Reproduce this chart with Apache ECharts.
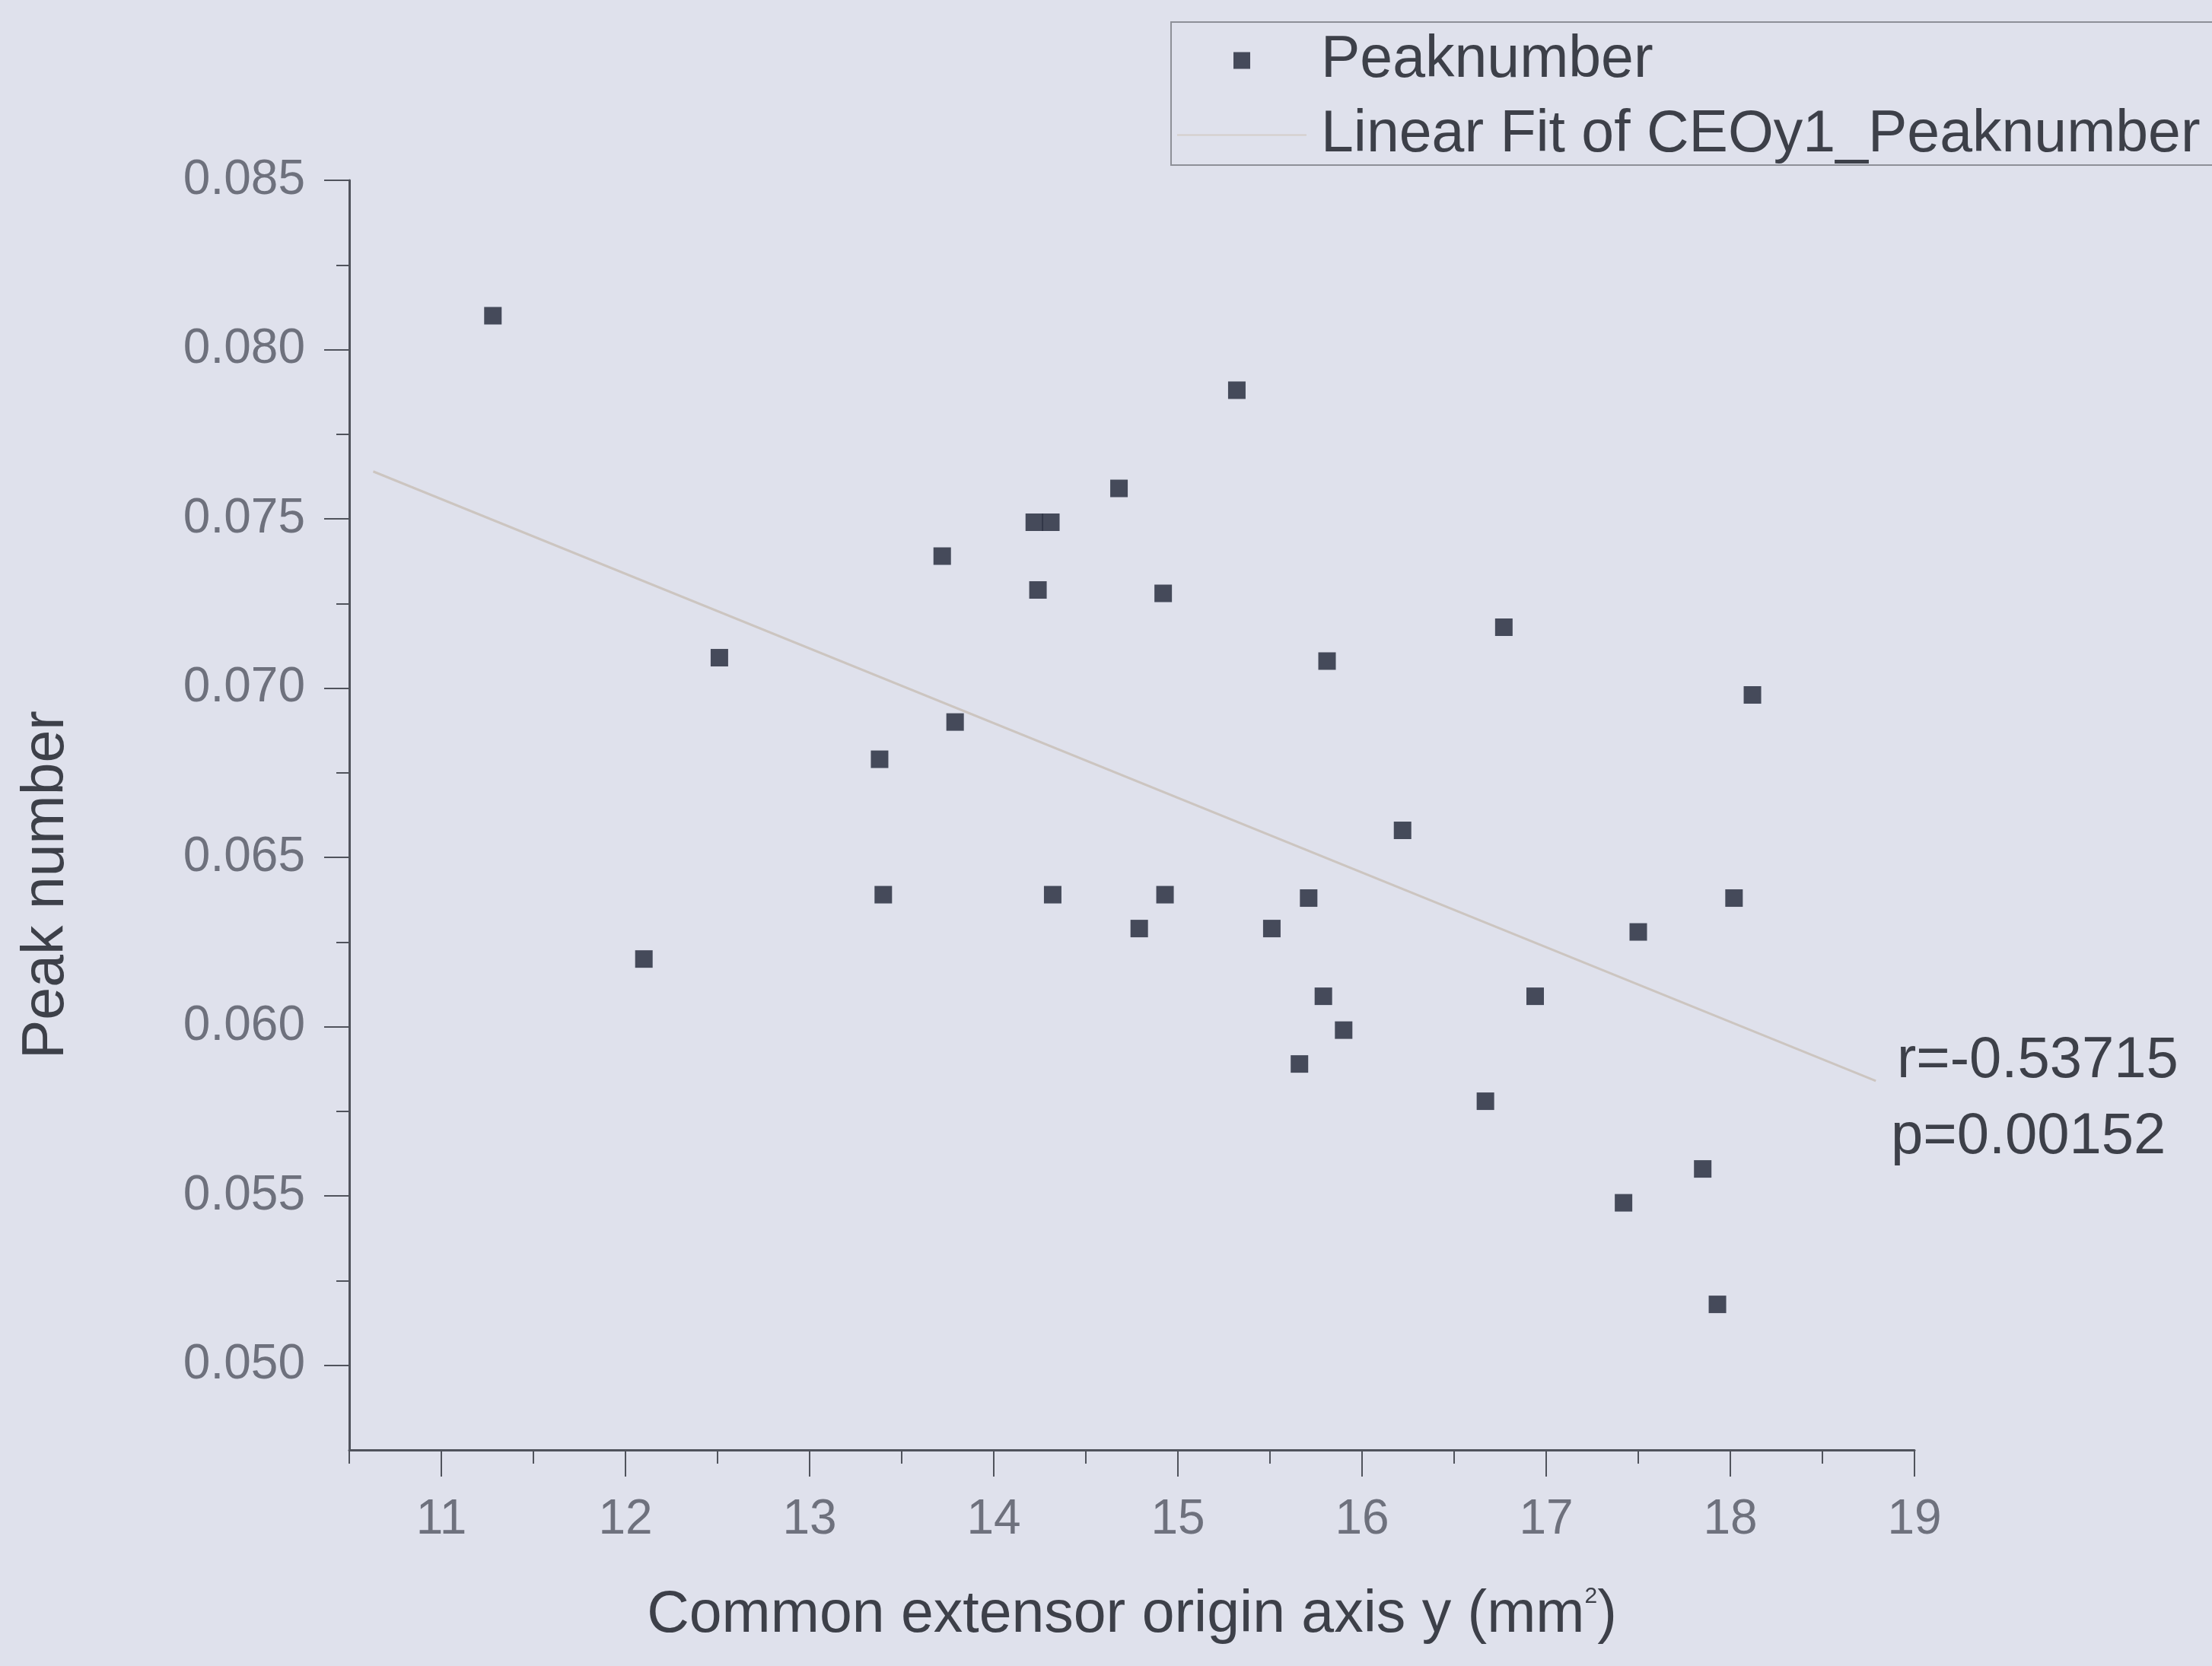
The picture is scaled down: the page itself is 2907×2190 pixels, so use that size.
<!DOCTYPE html>
<html>
<head>
<meta charset="utf-8">
<script src="https://cdn.jsdelivr.net/npm/echarts@6/dist/echarts.min.js"></script>
<style>
html,body{margin:0;padding:0;background:#dfe1ec;}
#chart{width:2907px;height:2190px;}
</style>
</head>
<body>
<div id="chart"></div>
<script>
// Scatter data: Common extensor origin axis y (mm^2) vs Peak number
const xValues = [11.28, 12.10, 12.51, 13.38, 13.40, 13.72, 13.79, 14.22, 14.31, 14.24, 14.32,
  14.68, 14.79, 14.92, 14.93, 15.32, 15.51, 15.71, 15.66, 15.81, 15.79, 15.90, 16.22,
  16.67, 16.77, 16.94, 17.42, 17.50, 17.85, 17.93, 18.02, 18.12];
const yValues = [0.0810, 0.0620, 0.0709, 0.0679, 0.0639, 0.0739, 0.0690, 0.0749, 0.0749, 0.0729, 0.0639,
  0.0759, 0.0629, 0.0728, 0.0639, 0.0788, 0.0629, 0.0638, 0.0589, 0.0708, 0.0609, 0.0599, 0.0658,
  0.0578, 0.0718, 0.0609, 0.0548, 0.0628, 0.0558, 0.0518, 0.0638, 0.0698];
// Linear fit endpoints
const fitX = [10.63, 18.79];
const fitY = [0.0764, 0.0584];
// Tick values
const xMajorTicks = [11, 12, 13, 14, 15, 16, 17, 18, 19];
const xMinorTicks = [10.5, 11.5, 12.5, 13.5, 14.5, 15.5, 16.5, 17.5, 18.5];
const yMajorTicks = [0.050, 0.055, 0.060, 0.065, 0.070, 0.075, 0.080, 0.085];
const yMinorTicks = [0.0525, 0.0575, 0.0625, 0.0675, 0.0725, 0.0775, 0.0825];
const seriesNames = ['Peaknumber', 'Linear Fit of CEOy1_Peaknumber'];
const xTitle = 'Common extensor origin axis y (mm';
const yTitle = 'Peak number';
const statText = ['r=-0.53715', 'p=0.00152'];

const FONT = "'Liberation Sans', Arial, sans-serif";
const axisColor = '#50535c';
const textDark = '#3d4049';
const tickText = '#6e717d';
const fitColor = '#ccc5c0';

const chart = echarts.init(document.getElementById('chart'));
const scatterData = xValues.map((x, i) => [x, yValues[i]]);
const fitData = fitX.map((x, i) => [x, fitY[i]]);

const option = {
  backgroundColor: '#dfe1ec',
  animation: false,
  grid: {left: 459, right: 391, top: 237, bottom: 284},
  legend: {
    orient: 'vertical', left: 1539, top: 29,
    padding: [12, 60, 1, 8], itemGap: 21, itemWidth: 170, itemHeight: 22,
    symbolKeepAspect: true,
    borderColor: '#8e9098', borderWidth: 2, backgroundColor: '#dfe1ec',
    textStyle: {fontSize: 77, color: textDark, fontFamily: FONT, padding: [0, 0, 0, 14], lineHeight: 77},
    data: [
      {name: seriesNames[0], icon: 'path://M0 0H10V10H0Z'},
      {name: seriesNames[1], icon: 'path://M0 0H170V2H0Z', itemStyle: {color: '#d4cec9'}}
    ]
  },
  xAxis: [
    {
      type: 'value', min: 10.5, max: 19, position: 'bottom',
      name: '{a|' + xTitle + '}{s|2}{a|)}', nameLocation: 'middle', nameGap: 178,
      nameTextStyle: {fontSize: 77, color: textDark, fontFamily: FONT,
        rich: {a: {fontSize: 77, color: textDark, fontFamily: FONT, lineHeight: 80},
               s: {fontSize: 30, color: textDark, fontFamily: FONT, verticalAlign: 'top', lineHeight: 80, padding: [0, 0, 40, 0]}}},
      axisLine: {show: true, onZero: false, lineStyle: {color: axisColor, width: 3}},
      axisTick: {show: true, length: 35, customValues: xMajorTicks, lineStyle: {color: axisColor, width: 2}},
      axisLabel: {customValues: xMajorTicks, fontSize: 64, color: tickText, fontFamily: FONT, margin: 60},
      splitLine: {show: false}
    },
    {
      type: 'value', min: 10.5, max: 19, position: 'bottom',
      axisLine: {show: false},
      axisTick: {show: true, length: 18, customValues: xMinorTicks, lineStyle: {color: axisColor, width: 2}},
      axisLabel: {show: false},
      splitLine: {show: false}
    }
  ],
  yAxis: [
    {
      type: 'value', min: 0.0475, max: 0.085, position: 'left',
      axisLine: {show: true, onZero: false, lineStyle: {color: axisColor, width: 3}},
      axisTick: {show: true, length: 33, customValues: yMajorTicks, lineStyle: {color: axisColor, width: 2}},
      axisLabel: {customValues: yMajorTicks, formatter: v => v.toFixed(3), fontSize: 64, color: tickText, fontFamily: FONT, margin: 58},
      splitLine: {show: false}
    },
    {
      type: 'value', min: 0.0475, max: 0.085, position: 'left',
      axisLine: {show: false},
      axisTick: {show: true, length: 17, customValues: yMinorTicks, lineStyle: {color: axisColor, width: 2}},
      axisLabel: {show: false},
      splitLine: {show: false}
    }
  ],
  series: [
    {
      name: seriesNames[0], type: 'scatter', xAxisIndex: 0, yAxisIndex: 0,
      symbol: 'rect', symbolSize: 23,
      itemStyle: {color: '#1e2436'},
      data: scatterData, z: 3
    },
    {
      name: seriesNames[1], type: 'line', xAxisIndex: 0, yAxisIndex: 0,
      symbol: 'none', showSymbol: false,
      lineStyle: {color: fitColor, width: 3},
      itemStyle: {color: fitColor},
      data: fitData, z: 2
    }
  ],
  graphic: [
    {type: 'text', x: 62, y: 1163, rotation: Math.PI / 2,
     style: {text: yTitle, fontSize: 77, fontFamily: FONT, fill: textDark, align: 'center', verticalAlign: 'middle'}},
    {type: 'text', x: 2493, y: 1395,
     style: {text: statText[0], fontSize: 76, fontFamily: FONT, fill: textDark, align: 'left', verticalAlign: 'middle'}},
    {type: 'text', x: 2485, y: 1495,
     style: {text: statText[1], fontSize: 76, fontFamily: FONT, fill: textDark, align: 'left', verticalAlign: 'middle'}}
  ]
};
chart.setOption(option);
</script>
</body>
</html>
